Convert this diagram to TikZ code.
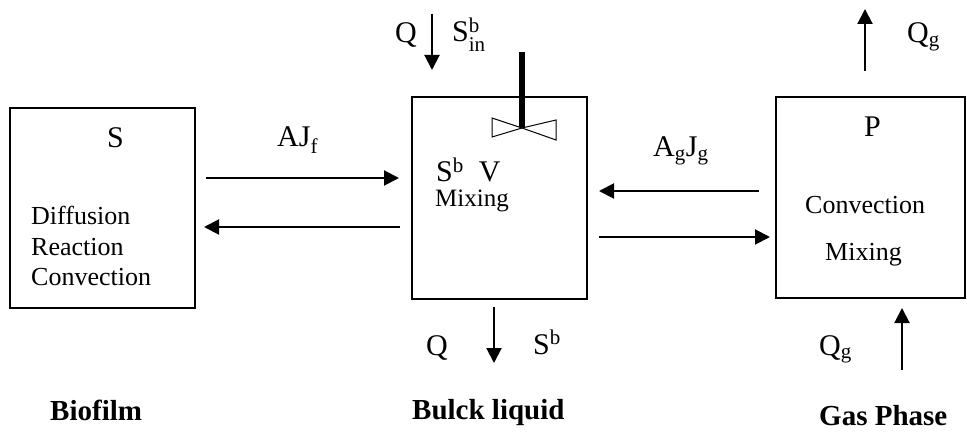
\documentclass[tikz,border=0pt]{standalone}
\usepackage{amsmath}
\usepackage{fontspec}
\setmainfont{Liberation Serif}
\usetikzlibrary{arrows.meta,positioning}

\begin{document}
\begin{tikzpicture}[
    x=1pt, y=-1pt,
    tank/.style={draw, line width=1.8pt, inner sep=0pt},
    flow/.style={-{Triangle[length=15pt,width=15pt]}, line width=2pt},
    sym/.style={font=\fontsize{30}{32}\selectfont, inner sep=0pt, anchor=base west},
    txt/.style={font=\fontsize{26}{30}\selectfont, inner sep=0pt, anchor=base west},
    phase/.style={font=\fontsize{29}{32}\selectfont\bfseries, inner sep=0pt, anchor=base west}
]
\useasboundingbox (0,0) rectangle (967,433);

% the three compartments
\node[tank, minimum width=185pt, minimum height=200pt] (bio) at (102.5,208) {};
\node[tank, minimum width=175pt, minimum height=202pt] (bulk) at (499.5,198) {};
\node[tank, minimum width=189pt, minimum height=201pt] (gas) at (870.5,197.5) {};

% texts inside
\node[sym] (s) at (107,148) {S};
\node[txt] (diff) at (31,225) {Diffusion};
\node[txt] (reac) at (31,255) {Reaction};
\node[txt] (conv) at (31,285) {Convection};
\node[sym] (sbv) at (436,182) {S\textsuperscript{b}\ \ V};
\node[txt, font=\fontsize{25}{30}\selectfont] (mix) at (435,207) {Mixing};
\node[sym] (p) at (864,137) {P};
\node[txt] (gconv) at (805,213) {Convection};
\node[txt] (gmix) at (825,260) {Mixing};

% stirrer
\draw[line width=6pt] (522,52) -- (522,128);
\draw[line width=1pt, fill=white] (522,128) -- (492,118) -- (492,137) -- cycle;
\draw[line width=1pt, fill=white] (522,128) -- (556,120) -- (556,140) -- cycle;

% exchange between compartments
\coordinate (ajf-a) at (206,178);
\coordinate (ajf-b) at (399,178);
\coordinate (ajb-a) at (400,227);
\coordinate (ajb-b) at (204,227);
\coordinate (agj-a) at (759,191);
\coordinate (agj-b) at (599,191);
\coordinate (agb-a) at (599,237);
\coordinate (agb-b) at (770,237);
\draw[flow] (ajf-a) -- (ajf-b);
\draw[flow] (ajb-a) -- (ajb-b);
\draw[flow] (agj-a) -- (agj-b);
\draw[flow] (agb-a) -- (agb-b);
\node[sym] (ajf) at (277,147) {AJ\textsubscript{f}};
\node[sym] (agjg) at (653,157) {A\textsubscript{g}J\textsubscript{g}};

% feed and outflow
\coordinate (feed-a) at (432,14);
\coordinate (feed-b) at (432,70);
\coordinate (out-a) at (494,307);
\coordinate (out-b) at (494,363);
\coordinate (gout-a) at (865,71);
\coordinate (gout-b) at (865,9);
\coordinate (gin-a) at (902,370);
\coordinate (gin-b) at (902,308);
\draw[flow] (feed-a) -- (feed-b);
\draw[flow] (out-a) -- (out-b);
\draw[flow] (gout-a) -- (gout-b);
\draw[flow] (gin-a) -- (gin-b);
\node[sym] (qin) at (395,43) {Q};
\node[sym] (sin) at (452,42) {S$^{\text{b}}_{\text{in}}$};
\node[sym] (qout) at (426,355) {Q};
\node[sym] (sout) at (533,354) {S\textsuperscript{b}};
\node[sym] (qgout) at (907,43) {Q\textsubscript{g}};
\node[sym] (qgin) at (819,355) {Q\textsubscript{g}};

% phase names
\node[phase] (biolbl) at (50,420) {Biofilm};
\node[phase] (bulklbl) at (412,419) {Bulck liquid};
\node[phase] (gaslbl) at (819,425) {Gas Phase};
\end{tikzpicture}
\end{document}
